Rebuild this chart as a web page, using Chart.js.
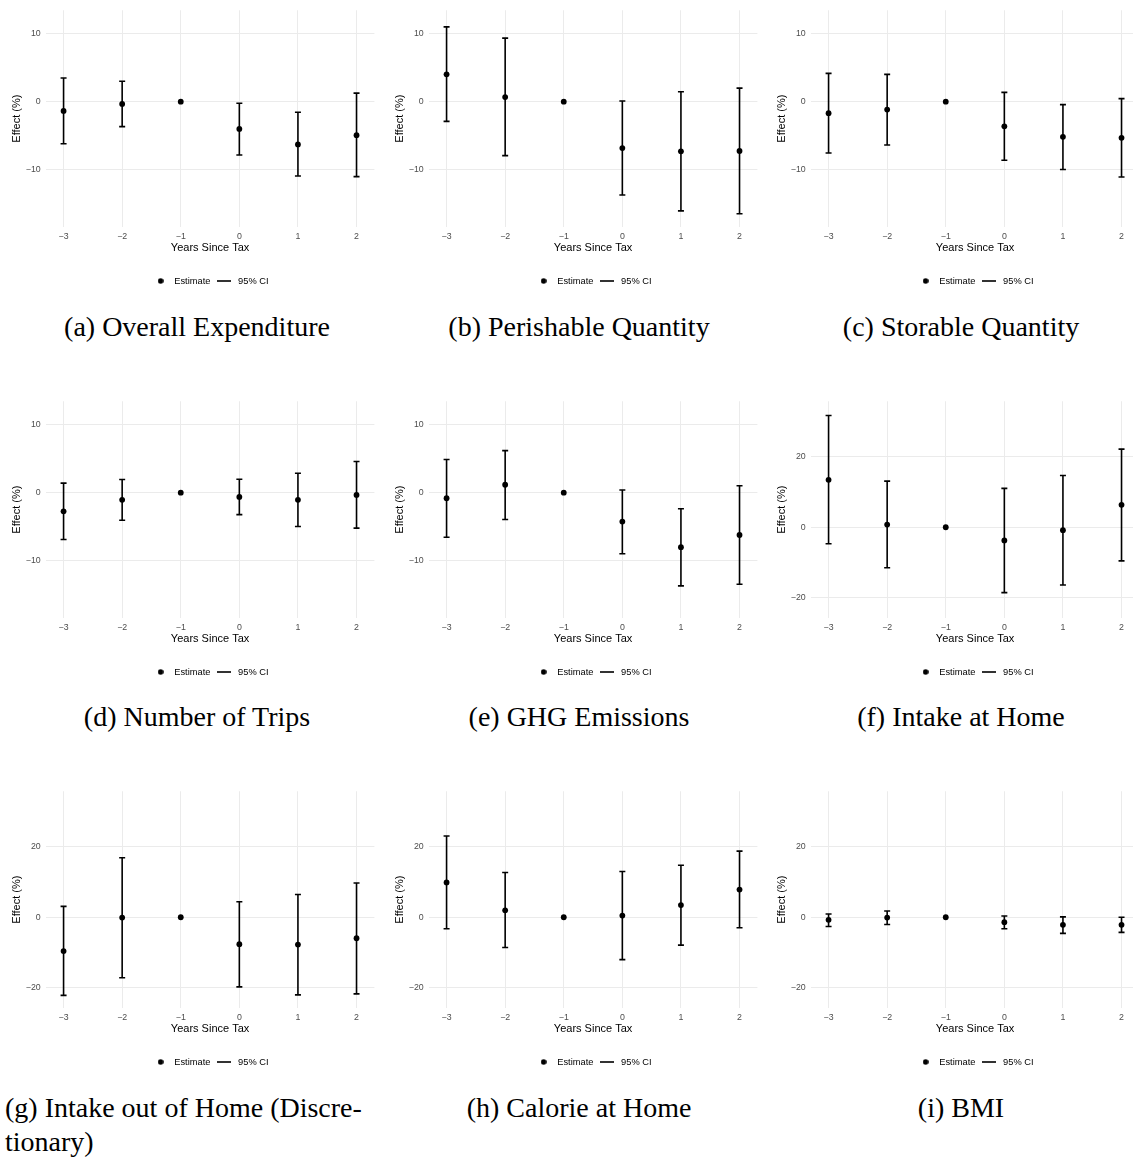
<!DOCTYPE html>
<html>
<head>
<meta charset="utf-8">
<script src="https://cdn.jsdelivr.net/npm/chart.js@4.4.1/dist/chart.umd.min.js"></script>
<style>
  body { margin: 0; width: 1133px; height: 1160px; background: #fff; position: relative; overflow: hidden; }
  canvas.panel { position: absolute; }
  .cap { position: absolute; font-family: "Liberation Serif", "Times New Roman", serif; font-size: 28px; line-height: 34px; color: #000; white-space: nowrap; }
</style>
</head>
<body>
<script>
// event-study estimates, years relative to the tax (-1 is the reference year)
const years = [-3, -2, -1, 0, 1, 2];

const expendEst = [-1.36, -0.34, 0, -4.02, -6.3, -4.94];
const expendLo = [-6.2, -3.68, null, -7.85, -10.94, -11.04];
const expendHi = [3.49, 3.0, null, -0.24, -1.55, 1.26];

const perishEst = [4.02, 0.68, 0, -6.83, -7.31, -7.26];
const perishLo = [-2.9, -7.94, null, -13.75, -16.08, -16.5];
const perishHi = [11.0, 9.35, null, 0.1, 1.45, 1.99];

const storEst = [-1.69, -1.16, 0, -3.63, -5.18, -5.33];
const storLo = [-7.55, -6.39, null, -8.62, -9.98, -11.09];
const storHi = [4.16, 4.02, null, 1.36, -0.44, 0.44];

const tripsEst = [-2.75, -1.06, 0, -0.63, -1.06, -0.34];
const tripsLo = [-6.9, -4.06, null, -3.24, -4.98, -5.22];
const tripsHi = [1.4, 1.93, null, 1.98, 2.85, 4.59];

const ghgEst = [-0.82, 1.16, 0, -4.25, -8.02, -6.23];
const ghgLo = [-6.57, -3.96, null, -8.99, -13.72, -13.48];
const ghgHi = [4.88, 6.18, null, 0.39, -2.37, 1.01];

const intakeEst = [13.48, 0.75, 0, -3.75, -0.84, 6.37];
const intakeLo = [-4.68, -11.5, null, -18.6, -16.4, -9.55];
const intakeHi = [31.74, 13.1, null, 11.05, 14.7, 22.2];

const outEst = [-9.63, -0.1, 0, -7.66, -7.76, -5.98];
const outLo = [-22.2, -17.2, null, -19.8, -22.06, -21.78];
const outHi = [3.08, 16.9, null, 4.39, 6.45, 9.72];

const calEst = [9.9, 1.96, 0, 0.47, 3.46, 7.85];
const calLo = [-3.27, -8.6, null, -12.06, -7.94, -2.99];
const calHi = [23.08, 12.7, null, 12.99, 14.77, 18.79];

const bmiEst = [-0.75, -0.1, 0, -1.4, -2.15, -2.15];
const bmiLo = [-2.62, -2.06, null, -3.27, -4.58, -4.3];
const bmiHi = [0.93, 1.78, null, 0.37, 0.09, 0.0];

// tick labels
const xTicks = [-3, -2, -1, 0, 1, 2];
const yTicksSmall = [-10, 0, 10];
const yTicksLarge = [-20, 0, 20];
const yLimSmall = [-18.45, 13.45];
const yLimLarge = [-25.8, 35.8];

const captions = [
  "(a) Overall Expenditure", "(b) Perishable Quantity", "(c) Storable Quantity",
  "(d) Number of Trips", "(e) GHG Emissions", "(f) Intake at Home",
  "(g) Intake out of Home (Discre-\ntionary)", "(h) Calorie at Home", "(i) BMI"
];

const panels = [
  [expendEst, expendLo, expendHi, yLimSmall, yTicksSmall],
  [perishEst, perishLo, perishHi, yLimSmall, yTicksSmall],
  [storEst, storLo, storHi, yLimSmall, yTicksSmall],
  [tripsEst, tripsLo, tripsHi, yLimSmall, yTicksSmall],
  [ghgEst, ghgLo, ghgHi, yLimSmall, yTicksSmall],
  [intakeEst, intakeLo, intakeHi, yLimLarge, yTicksLarge],
  [outEst, outLo, outHi, yLimLarge, yTicksLarge],
  [calEst, calLo, calHi, yLimLarge, yTicksLarge],
  [bmiEst, bmiLo, bmiHi, yLimLarge, yTicksLarge]
];

const colLeft = [0, 382.5, 765];
const rowTop = [0, 390.5, 781];
const colCenter = [197, 579, 961];

Chart.defaults.font.family = "'Liberation Sans', Arial, sans-serif";
Chart.defaults.animation = false;

// small icons for the legend
const dotIcon = document.createElement("canvas");
dotIcon.width = 6; dotIcon.height = 6;
let g = dotIcon.getContext("2d");
g.fillStyle = "#000";
g.beginPath(); g.arc(3, 3, 2.8, 0, Math.PI * 2); g.fill();

const lineIcon = document.createElement("canvas");
lineIcon.width = 14; lineIcon.height = 2;
g = lineIcon.getContext("2d");
g.fillStyle = "#000";
g.fillRect(0, 0.2, 14, 1.6);

function fmt(v) {
  return v < 0 ? "\u2212" + Math.abs(v) : String(v);
}

function makeChart(canvas, est, lo, hi, yLim, yTicks) {
  const ciSets = [];
  years.forEach(function (x, i) {
    if (lo[i] === null) return;
    ciSets.push({
      type: "line",
      data: [{ x: x, y: lo[i] }, { x: x, y: hi[i] }],
      borderColor: "#000",
      borderWidth: 1.6,
      pointStyle: "line",
      pointRadius: 3,
      pointBorderWidth: 1.6,
      pointBorderColor: "#000",
      order: 2
    });
  });

  return new Chart(canvas, {
    type: "scatter",
    data: {
      datasets: [{
        label: "Estimate",
        data: years.map(function (x, i) { return { x: x, y: est[i] }; }),
        pointRadius: 2.9,
        backgroundColor: "#000",
        borderColor: "#000",
        borderWidth: 0,
        order: 1
      }].concat(ciSets)
    },
    options: {
      responsive: false,
      events: [],
      layout: { padding: { left: 0, right: 5, top: 7, bottom: 4.35 } },
      scales: {
        x: {
          type: "linear",
          min: -3.305,
          max: 2.305,
          afterBuildTicks: function (s) { s.ticks = xTicks.map(function (v) { return { value: v }; }); },
          afterFit: function (s) { s.height = 44.35; },
          grid: { color: "#ebebeb", lineWidth: 1, drawTicks: false },
          border: { display: false },
          ticks: { padding: 4, color: "#4d4d4d", font: { size: 8.8 }, callback: fmt, maxRotation: 0 },
          title: { display: true, text: "Years Since Tax", color: "#000", font: { size: 11 }, padding: { top: 0, bottom: 16.75 } }
        },
        y: {
          min: yLim[0],
          max: yLim[1],
          afterBuildTicks: function (s) { s.ticks = yTicks.map(function (v) { return { value: v }; }); },
          afterFit: function (s) { s.width = 45.7; },
          grid: { color: "#ebebeb", lineWidth: 1, drawTicks: false },
          border: { display: false },
          ticks: { padding: 5, color: "#4d4d4d", font: { size: 8.8 }, callback: fmt },
          title: { display: true, text: "Effect (%)", color: "#000", font: { size: 11 }, padding: { top: 10.4, bottom: 0 } }
        }
      },
      plugins: {
        tooltip: { enabled: false },
        legend: {
          position: "bottom",
          fullSize: false,
          labels: {
            usePointStyle: true,
            pointStyleWidth: 18,
            padding: 5,
            color: "#000",
            font: { size: 9.3 },
            generateLabels: function () {
              return [
                { text: "Estimate", pointStyle: dotIcon, fontColor: "#000", lineWidth: 0, hidden: false },
                { text: "95% CI", pointStyle: lineIcon, fontColor: "#000", lineWidth: 0, hidden: false }
              ];
            }
          }
        }
      }
    }
  });
}

panels.forEach(function (p, k) {
  const col = k % 3, row = Math.floor(k / 3);
  const cv = document.createElement("canvas");
  cv.className = "panel";
  cv.width = 380; cv.height = 300;
  cv.style.left = colLeft[col] + "px";
  cv.style.top = rowTop[row] + "px";
  document.body.appendChild(cv);
  makeChart(cv, p[0], p[1], p[2], p[3], p[4]);

  const cap = document.createElement("div");
  cap.className = "cap";
  cap.style.top = (309.6 + rowTop[row]) + "px";
  const lines = captions[k].split("\n");
  if (lines.length > 1) {
    cap.style.left = "5px";
    cap.innerHTML = lines.join("<br>");
  } else {
    cap.textContent = captions[k];
    cap.style.left = colCenter[col] + "px";
    cap.style.transform = "translateX(-50%)";
  }
  document.body.appendChild(cap);
});
</script>
</body>
</html>
